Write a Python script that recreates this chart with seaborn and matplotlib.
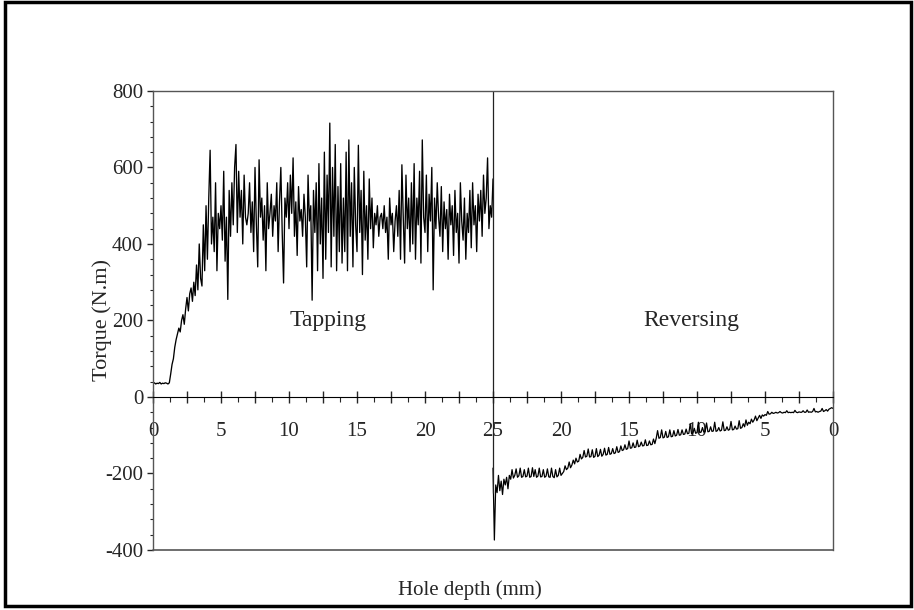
import numpy as np
import pandas as pd
import seaborn as sns
import matplotlib.pyplot as plt
from matplotlib.patches import Rectangle
from matplotlib.ticker import MultipleLocator, FuncFormatter

# tapping stroke: hole depth (mm) and torque (N.m), read every 0.1 mm
tap_depth = np.linspace(0, 25, 251)
tap_torque = [
    35, 37, 34, 36, 35, 38, 34, 36, 35, 37,
    36, 34, 37, 60, 85, 100, 130, 150, 165, 180,
    170, 200, 215, 190, 230, 260, 225, 270, 285, 250,
    300, 265, 345, 280, 400, 310, 290, 450, 330, 500,
    360, 520, 645, 400, 470, 380, 560, 330, 480, 440,
    500, 410, 590, 355, 470, 255, 540, 420, 560, 450,
    600, 660, 430, 590, 470, 540, 400, 580, 470, 450,
    480, 560, 430, 510, 380, 600, 450, 340, 620, 470,
    520, 410, 500, 330, 560, 440, 480, 530, 420, 500,
    460, 560, 380, 510, 600, 430, 298, 520, 470, 560,
    440, 580, 480, 625, 420, 510, 370, 550, 460, 490,
    420, 530, 470, 340, 580, 460, 500, 253, 540, 430,
    560, 330, 610, 400, 520, 310, 640, 360, 580, 430,
    716, 340, 600, 420, 660, 330, 550, 380, 610, 350,
    520, 380, 640, 330, 672, 420, 560, 340, 600, 450,
    380, 658, 430, 540, 320, 590, 410, 500, 360, 570,
    440, 520, 390, 480, 450, 500, 420, 470, 480, 440,
    500, 430, 470, 360, 520, 450, 480, 380, 460, 500,
    420, 540, 360, 607, 470, 350, 580, 440, 520, 380,
    560, 400, 610, 360, 520, 450, 590, 350, 672, 470,
    430, 580, 380, 530, 460, 600, 280, 520, 440, 560,
    470, 420, 550, 380, 510, 440, 490, 360, 530, 450,
    500, 370, 540, 430, 480, 350, 560, 460, 410, 520,
    360, 480, 430, 540, 390, 560, 450, 500, 380, 530,
    460, 540, 420, 580, 480, 520, 625, 440, 500, 470,
    570,
]

# reversing stroke: depth goes back from 25 mm to 0 mm
rev_depth = np.linspace(25, 0, 251)
rev_torque = [
    -186, -374, -230, -250, -205, -245, -220, -255, -215, -230,
    -210, -240, -205, -215, -190, -212, -205, -188, -210, -206,
    -186, -210, -208, -190, -209, -207, -186, -210, -208, -185,
    -208, -190, -210, -207, -186, -209, -208, -190, -210, -207,
    -188, -209, -210, -186, -208, -211, -190, -209, -205, -186,
    -205, -200, -195, -180, -190, -186, -170, -185, -178, -165,
    -175, -160, -170, -168, -150, -162, -158, -140, -157, -155,
    -136, -157, -156, -138, -158, -155, -135, -156, -152, -137,
    -155, -150, -134, -152, -150, -132, -150, -148, -135, -148,
    -146, -130, -145, -143, -128, -140, -138, -125, -137, -135,
    -115, -134, -133, -120, -132, -131, -113, -130, -128, -118,
    -128, -127, -112, -127, -126, -115, -125, -124, -110, -122,
    -108, -88, -108, -106, -86, -107, -105, -90, -106, -104,
    -86, -104, -103, -88, -102, -100, -85, -100, -99, -86,
    -98, -97, -84, -96, -95, -70, -96, -94, -82, -95,
    -93, -66, -93, -92, -80, -92, -90, -68, -91, -90,
    -78, -90, -89, -66, -90, -88, -80, -89, -87, -65,
    -88, -87, -78, -87, -85, -64, -86, -85, -76, -84,
    -83, -62, -82, -80, -70, -78, -60, -74, -66, -70,
    -58, -66, -60, -50, -62, -55, -48, -56, -47, -50,
    -46, -48, -38, -45, -44, -40, -43, -42, -40, -42,
    -41, -38, -41, -42, -40, -41, -36, -41, -40, -41,
    -40, -41, -35, -40, -41, -39, -40, -40, -36, -40,
    -40, -34, -40, -39, -40, -38, -30, -39, -38, -40,
    -38, -37, -30, -38, -36, -33, -37, -32, -30, -28,
    -30,
]

if __name__ == '__main__':
    # both strokes on one axis: reversing is drawn from 25 to 50 and relabelled
    tap = pd.DataFrame({'pos': tap_depth, 'torque': tap_torque})
    rev = pd.DataFrame({'pos': 50 - rev_depth, 'torque': rev_torque})

    sns.set_style('white')
    plt.rcParams['font.family'] = ['Liberation Serif', 'DejaVu Serif']
    plt.rcParams['axes.unicode_minus'] = False

    fig = plt.figure(figsize=(9.14, 6.1), dpi=100)
    ax = fig.add_axes([0.1674, 0.0984, 0.744, 0.7525])

    sns.lineplot(data=tap, x='pos', y='torque', sort=False, estimator=None,
                 color='black', linewidth=0.95, ax=ax)
    sns.lineplot(data=rev, x='pos', y='torque', sort=False, estimator=None,
                 color='black', linewidth=0.9, ax=ax)
    ax.vlines(25, -251, 800, color='#222222', linewidth=0.9)

    ax.set_xlim(0, 50)
    ax.set_ylim(-400, 800)

    # frame: x axis sits on zero, a plain line closes the box at -400
    ax.spines['bottom'].set_position(('data', 0))
    ax.spines['bottom'].set_color('black')
    for s in ['top', 'right', 'left']:
        ax.spines[s].set_color('#555555')
        ax.spines[s].set_linewidth(1)
    ax.axhline(-400, color='#555555', linewidth=1.2, clip_on=False)

    ax.xaxis.set_major_locator(MultipleLocator(2.5))
    ax.xaxis.set_minor_locator(MultipleLocator(1.25))

    def depth_label(v, pos):
        if abs(v % 5) > 1e-6:
            return ''
        d = v if v <= 25 else 50 - v
        return '%d' % round(d)

    ax.xaxis.set_major_formatter(FuncFormatter(depth_label))
    ax.tick_params(axis='x', which='major', direction='inout', length=8,
                   width=1, pad=14, labelsize=15, bottom=True)
    ax.tick_params(axis='x', which='minor', direction='out', length=3.5,
                   width=0.8, bottom=True)

    ax.yaxis.set_major_locator(MultipleLocator(200))
    ax.yaxis.set_minor_locator(MultipleLocator(40))
    ax.yaxis.set_major_formatter(FuncFormatter(lambda v, p: '%d' % v))
    ax.tick_params(axis='y', which='major', direction='out', length=4,
                   width=1, pad=3, labelsize=15, left=True)
    ax.tick_params(axis='y', which='minor', direction='out', length=2,
                   width=0.8, left=True)

    ax.set_xlabel('Hole depth (mm)', fontsize=15)
    ax.xaxis.set_label_coords(0.466, -0.065)
    ax.set_ylabel('Torque (N.m)', fontsize=16)
    ax.yaxis.set_label_coords(-0.06, 0.50)

    ax.text(12.9, 201, 'Tapping', fontsize=17, ha='center', va='center')
    ax.text(39.6, 201, 'Reversing', fontsize=17, ha='center', va='center')

    # outer border round the whole figure
    fig.patches.append(Rectangle((0.0055, 0.0066), 0.991, 0.99,
                                 transform=fig.transFigure, fill=False,
                                 edgecolor='black', linewidth=2.5))

    plt.savefig('out.png', dpi=100)
